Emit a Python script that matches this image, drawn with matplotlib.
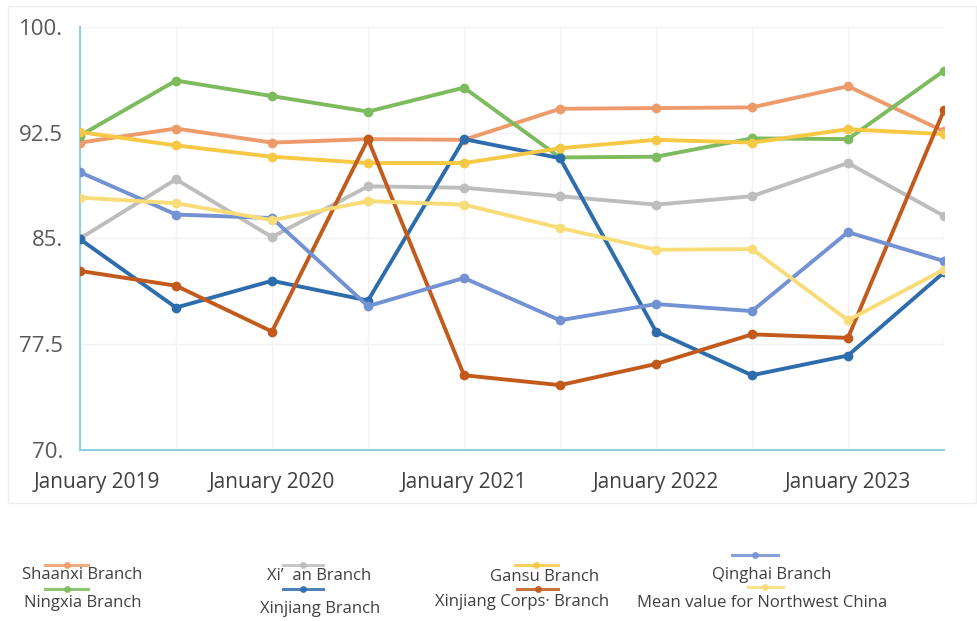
import matplotlib
matplotlib.use("Agg")
import matplotlib.pyplot as plt
import matplotlib.transforms as mtransforms
from matplotlib.lines import Line2D
from matplotlib.patches import Rectangle

# half-yearly periods, January 2019 .. July 2023
periods = ["2019-01", "2019-07", "2020-01", "2020-07", "2021-01",
           "2021-07", "2022-01", "2022-07", "2023-01", "2023-07"]
tick_labels = ["January 2019", "January 2020", "January 2021",
               "January 2022", "January 2023"]

shaanxi = [91.8, 92.8, 91.8, 92.05, 92.0, 94.2, 94.25, 94.3, 95.8, 92.6]
ningxia = [92.3, 96.2, 95.1, 94.0, 95.7, 90.75, 90.8, 92.1, 92.05, 96.9]
xian = [85.0, 89.2, 85.1, 88.7, 88.6, 88.0, 87.4, 88.0, 90.35, 86.6]
gansu = [92.55, 91.6, 90.8, 90.35, 90.35, 91.4, 92.0, 91.8, 92.75, 92.4]
qinghai = [89.7, 86.7, 86.45, 80.2, 82.2, 79.2, 80.35, 79.85, 85.45, 83.4]
xinjiang = [84.95, 80.1, 82.0, 80.6, 92.05, 90.7, 78.4, 75.3, 76.7, 82.6]
corps = [82.7, 81.65, 78.4, 92.05, 75.3, 74.6, 76.1, 78.2, 77.95, 94.1]
mean_nw = [87.9, 87.5, 86.3, 87.65, 87.4, 85.75, 84.2, 84.25, 79.2, 82.8]

series = [
    ("Shaanxi Branch", shaanxi, "#EE9B6B"),
    ("Ningxia Branch", ningxia, "#7DBB5E"),
    ("Xi\u2019  an Branch", xian, "#BDBDBD"),
    ("Xinjiang Branch", xinjiang, "#2E6DAD"),
    ("Gansu Branch", gansu, "#F6C844"),
    ("Xinjiang Corps\u00b7 Branch", corps, "#C25A1C"),
    ("Qinghai Branch", qinghai, "#7292D3"),
    ("Mean value for Northwest China", mean_nw, "#F8DC78"),
]

plt.rcParams["font.family"] = ["Open Sans", "DejaVu Sans"]

fig = plt.figure(figsize=(9.78, 6.21), dpi=100)
fig.patches.append(Rectangle((0.008, 0.19), 0.99, 0.80, transform=fig.transFigure,
                             fill=False, edgecolor="#EEEEEE", linewidth=1.0))
ax = fig.add_axes([0.0818, 0.2754, 0.8834, 0.6811])

x = list(range(len(periods)))
# draw order: lighter lines behind the darker ones
draw_order = [7, 2, 0, 4, 1, 6, 5, 3]
for i in draw_order:
    name, vals, col = series[i]
    ax.plot(x, vals, color=col, linewidth=2.8, marker="o", markersize=6,
            solid_capstyle="round", zorder=3 + i)

ax.set_xlim(0, len(periods) - 1)
ax.set_ylim(70, 100)
ax.set_yticks([70, 77.5, 85, 92.5, 100])
ax.set_yticklabels(["70.", "77.5", "85.", "92.5", "100."])
ax.set_xticks(x[::2])
ax.set_xticklabels(tick_labels)
ax.set_xticks(x, minor=True)

ax.grid(True, which="both", color="#F2F2F2", linewidth=1.0, zorder=0)
ax.tick_params(axis="both", which="both", length=0, colors="#595959")
ax.tick_params(axis="x", pad=16, labelsize=15)
ax.tick_params(axis="y", pad=12, labelsize=16)
for lbl in ax.get_xticklabels():
    lbl.set_color("#404040")
# first date label sits a little right of the axis corner
first = ax.get_xticklabels()[0]
first.set_transform(first.get_transform() +
                    mtransforms.ScaledTranslation(0.17, 0, fig.dpi_scale_trans))
for side in ["top", "right"]:
    ax.spines[side].set_visible(False)
for side in ["left", "bottom"]:
    ax.spines[side].set_color("#8FCFE0")
    ax.spines[side].set_linewidth(1.5)

# legend entries: (line x0, x1, line y, text x, text y) in pixels
legend_pos = [
    (45, 88, 565, 22, 575),
    (45, 88, 589, 24, 603),
    (283, 323, 565, 267, 576),
    (283, 323, 589, 260, 609),
    (515, 558, 565, 490, 577),
    (517, 558, 589, 435, 602),
    (732, 778, 555, 712, 575),
    (748, 783, 587, 637, 603),
]
W, H = 978.0, 621.0
for (name, vals, col), (x0, x1, ly, tx, ty) in zip(series, legend_pos):
    fig.add_artist(Line2D([x0 / W, x1 / W], [1 - ly / H, 1 - ly / H],
                          color=col, linewidth=2.2, alpha=0.85,
                          transform=fig.transFigure))
    fig.add_artist(Line2D([(x0 + x1) / 2 / W], [1 - ly / H], color=col,
                          marker="o", markersize=4, linestyle="none",
                          alpha=0.85, transform=fig.transFigure))
    fig.text(tx / W, 1 - ty / H, name, fontsize=12, color="#404040",
             ha="left", va="center")

fig.savefig("out.png", dpi=100)
